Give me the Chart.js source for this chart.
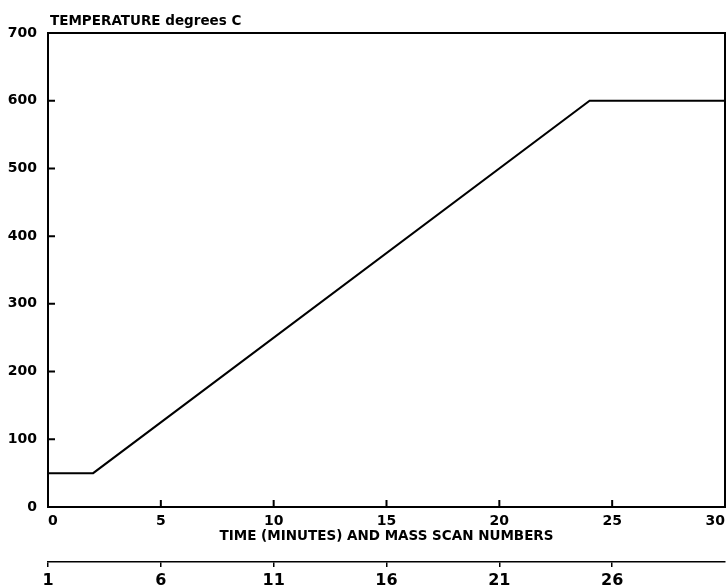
<!DOCTYPE html>
<html>
<head>
<meta charset="utf-8">
<script src="https://cdn.jsdelivr.net/npm/chart.js@4/dist/chart.umd.min.js"></script>
<style>
html, body { margin: 0; padding: 0; background: #fff; }
</style>
</head>
<body>
<canvas id="chart" width="726" height="588"></canvas>
<script>
// temperature programme
const timeMinutes = [0, 2, 24, 30];
const temperatureC = [50, 50, 600, 600];

const timeTicks = [0, 5, 10, 15, 20, 25, 30];
const scanTicks = [1, 6, 11, 16, 21, 26];
const tempTicks = [0, 100, 200, 300, 400, 500, 600, 700];

const FONT = '"DejaVu Sans", "Liberation Sans", sans-serif';

Chart.defaults.font.family = FONT;
Chart.defaults.font.size = 14;
Chart.defaults.font.weight = 'bold';
Chart.defaults.color = '#000';

const setTicks = values => scale => { scale.ticks = values.map(v => ({value: v})); };
const fitTo = (prop, size) => scale => {
    scale[prop] = size;
    scale.paddingLeft = 0;
    scale.paddingRight = 0;
};

// frame, inward tick marks and the title over the y axis
const plotterBits = {
    id: 'plotterBits',
    afterDraw(chart) {
        const ctx = chart.ctx;
        const a = chart.chartArea;
        const x = chart.scales.x, y = chart.scales.y;
        ctx.save();
        ctx.strokeStyle = '#000';
        ctx.lineWidth = 2;
        ctx.strokeRect(a.left, a.top, a.right - a.left, a.bottom - a.top);
        ctx.beginPath();
        for (const v of tempTicks) {
            const py = y.getPixelForValue(v);
            ctx.moveTo(a.left, py);
            ctx.lineTo(a.left + 7, py);
        }
        for (const v of timeTicks) {
            const px = x.getPixelForValue(v);
            ctx.moveTo(px, a.bottom);
            ctx.lineTo(px, a.bottom - 7);
        }
        ctx.stroke();
        ctx.font = 'bold 13.5px ' + FONT;
        ctx.fillStyle = '#000';
        ctx.textBaseline = 'alphabetic';
        ctx.fillText('TEMPERATURE degrees C', a.left + 2, 25);
        ctx.restore();
    }
};

new Chart(document.getElementById('chart'), {
    type: 'line',
    data: {
        datasets: [{
            data: timeMinutes.map((t, i) => ({x: t, y: temperatureC[i]})),
            borderColor: '#000',
            borderWidth: 2,
            pointRadius: 0,
            tension: 0,
        }],
    },
    options: {
        responsive: false,
        animation: false,
        layout: {padding: {top: 33, right: 1, left: 0}},
        plugins: {legend: {display: false}, tooltip: {enabled: false}},
        scales: {
            x: {
                type: 'linear', position: 'bottom', weight: 0,
                min: 0, max: 30,
                afterBuildTicks: setTicks(timeTicks),
                afterFit: fitTo('height', 55),
                grid: {display: false},
                border: {display: false},
                ticks: {padding: -2, maxRotation: 0, align: 'inner'},
                title: {display: true, text: 'TIME (MINUTES) AND MASS SCAN NUMBERS', font: {size: 13.5}, padding: {top: 0, bottom: 17}},
            },
            x2: {
                type: 'linear', position: 'bottom', weight: 1,
                min: 1, max: 31,
                afterBuildTicks: setTicks(scanTicks),
                afterFit: fitTo('height', 26),
                grid: {drawOnChartArea: false, drawTicks: true, tickLength: 5, color: '#000', lineWidth: 1.5},
                border: {display: true, color: '#000', width: 1.5},
                ticks: {padding: 4, maxRotation: 0, font: {size: 16}},
            },
            y: {
                type: 'linear', min: 0, max: 700,
                afterBuildTicks: setTicks(tempTicks),
                afterFit: s => { s.width = 48; },
                grid: {display: false},
                border: {display: false},
                ticks: {padding: 3},
            },
        },
    },
    plugins: [plotterBits],
});
</script>
</body>
</html>
